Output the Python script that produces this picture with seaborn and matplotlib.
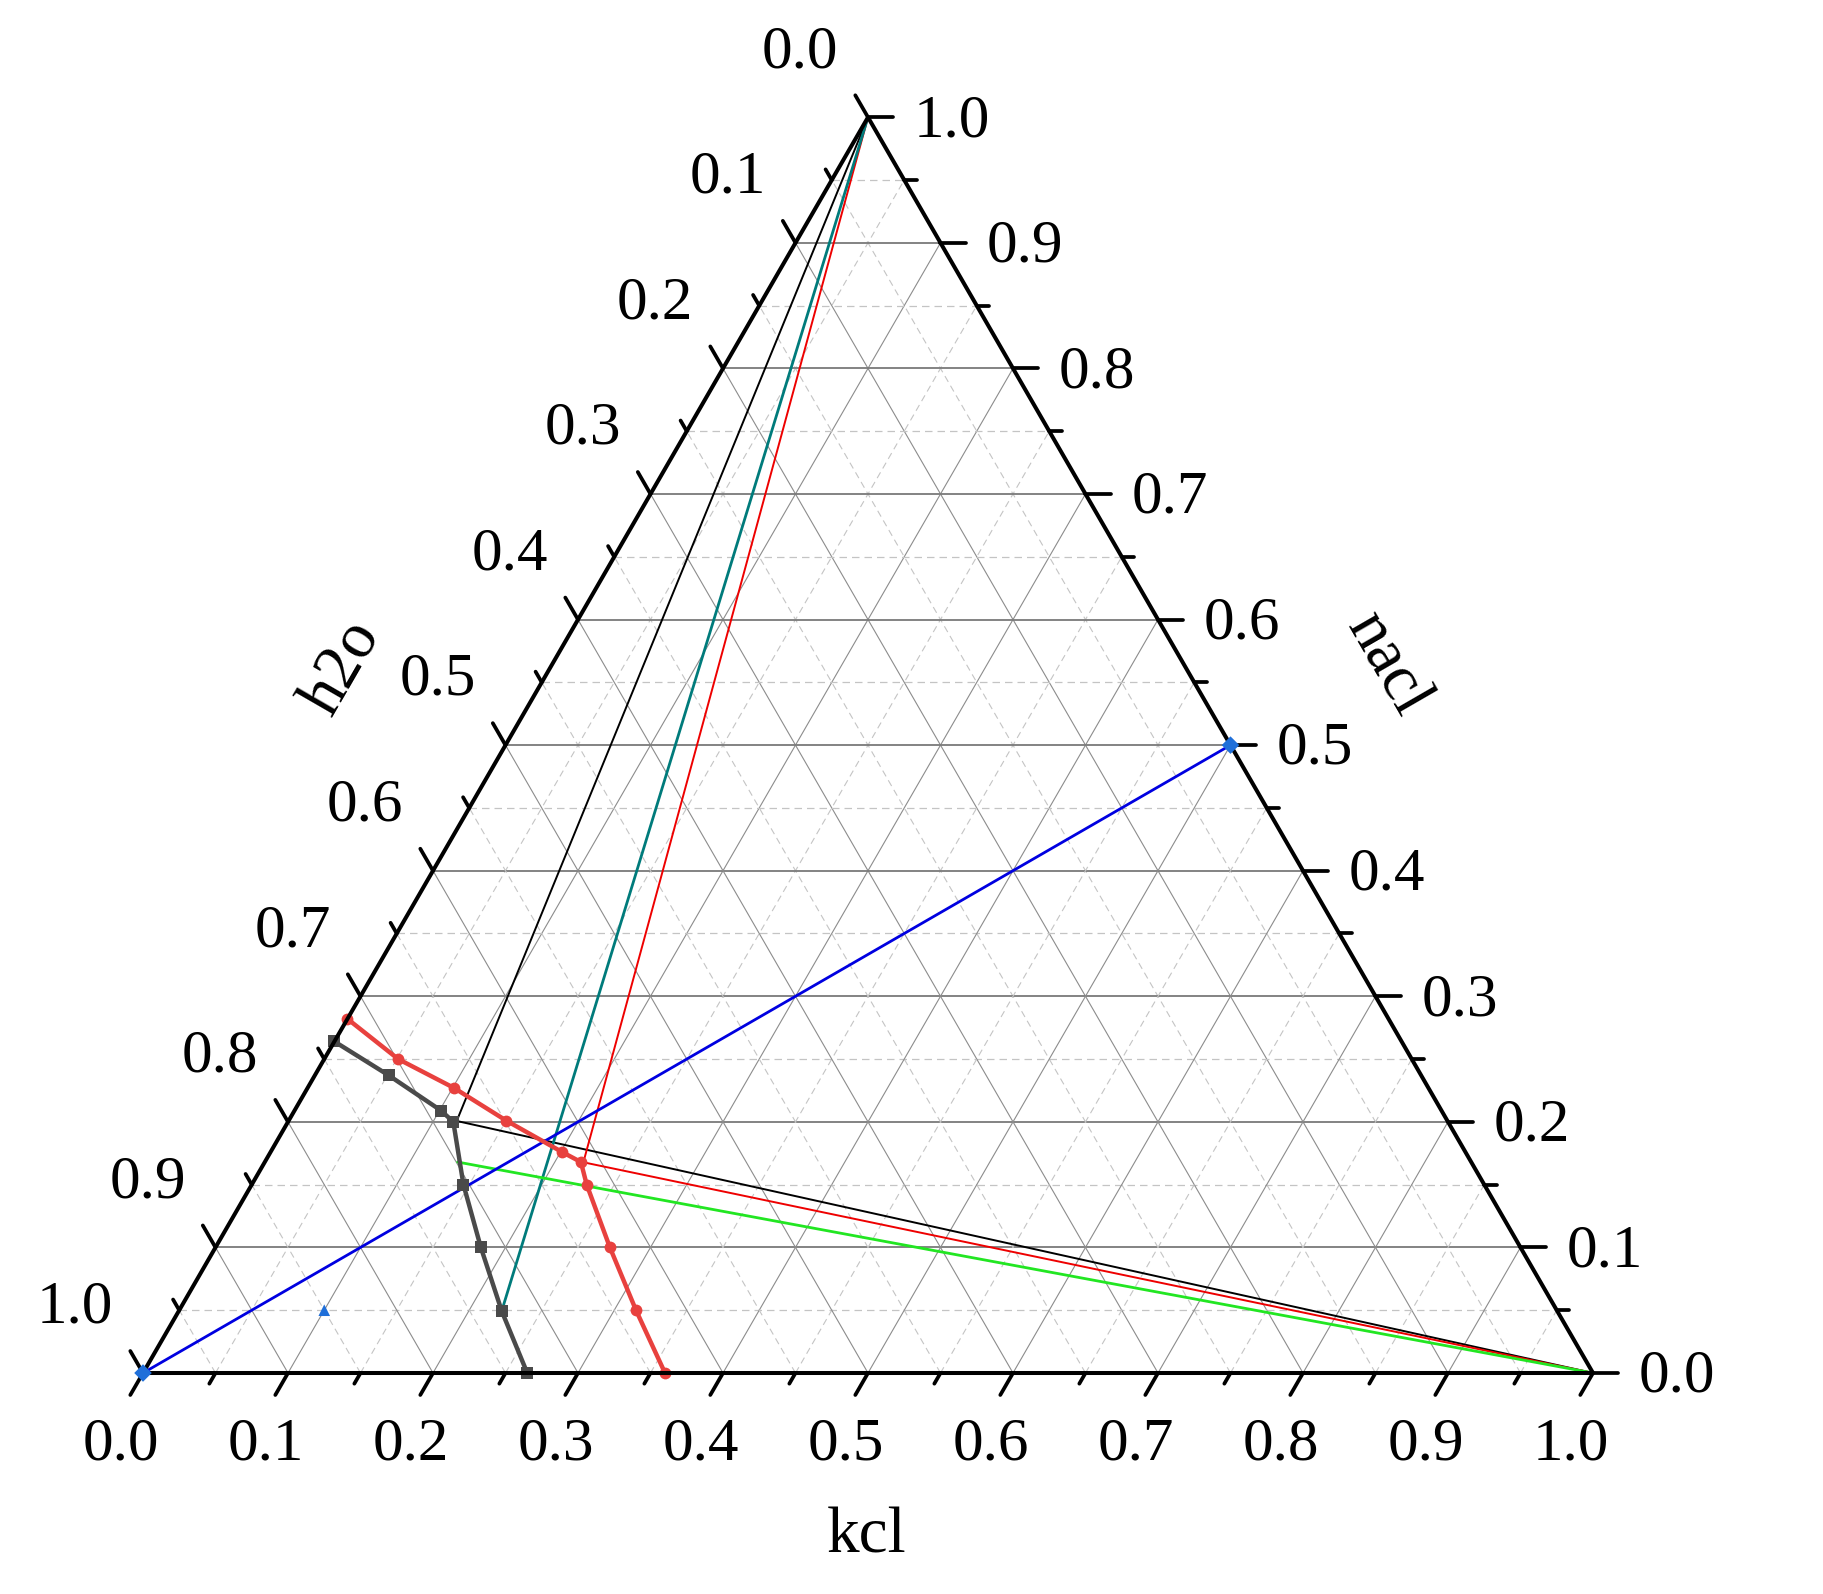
#三元相图 kcl - nacl - h2o
import numpy as np
import pandas as pd
import matplotlib
matplotlib.use("Agg")
import matplotlib.pyplot as plt
import seaborn as sns

# datos (fracciones kcl, nacl; h2o = 1 - kcl - nacl)
red_kcl = [0.0, 0.051, 0.101, 0.150, 0.201, 0.218, 0.231, 0.272, 0.315, 0.360]
red_nacl = [0.282, 0.250, 0.227, 0.201, 0.176, 0.168, 0.150, 0.100, 0.050, 0.0]

gray_kcl = [0.0, 0.051, 0.101, 0.114, 0.146, 0.183, 0.223, 0.265]
gray_nacl = [0.264, 0.237, 0.209, 0.200, 0.150, 0.100, 0.049, 0.0]

# lineas de union
black_kcl = [0.0, 0.116, 1.0]
black_nacl = [1.0, 0.2007, 0.0]
thinred_kcl = [0.0, 0.2198, 1.0]
thinred_nacl = [1.0, 0.1678, 0.0]
teal_kcl = [0.0, 0.2227]
teal_nacl = [1.0, 0.0494]
green_kcl = [0.133, 1.0]
green_nacl = [0.168, 0.0]
blue_kcl = [0.0, 0.5]
blue_nacl = [0.0, 0.5]
tri_kcl = [0.1]
tri_nacl = [0.05]

tick_vals = np.round(np.arange(0, 1.0001, 0.05), 2)
S3 = np.sqrt(3) / 2


def to_xy(kcl, nacl):
    kcl = np.asarray(kcl, float)
    nacl = np.asarray(nacl, float)
    return kcl + 0.5 * nacl, nacl * S3


def frame(kcl, nacl):
    x, y = to_xy(kcl, nacl)
    return pd.DataFrame({'x': x, 'y': y})


sns.set_style('white')
plt.rcParams['font.family'] = ['Liberation Serif', 'DejaVu Serif']
plt.rcParams['text.color'] = 'black'

PX = 1450.0
fig = plt.figure(figsize=(18.23, 15.94), dpi=100)
ax = fig.add_axes([0, 0, 1, 1])
ax.set_xlim(-143 / PX, 1680 / PX)
ax.set_ylim(-221 / PX, 1373 / PX)
ax.axis('off')

# rejilla
for v in tick_vals[1:-1]:
    major = abs(v * 10 - round(v * 10)) < 1e-6
    if major:
        sh = dict(color='#7a7a7a', lw=1.3, ls='-', zorder=1)
        ss = dict(color='#8c8c8c', lw=0.8, ls='-', zorder=1)
    else:
        sh = dict(color='#c4c4c4', lw=0.9, ls=(0, (6, 4)), zorder=1)
        ss = dict(color='#c4c4c4', lw=0.8, ls=(0, (6, 4)), zorder=1)
    x, y = to_xy([0, 1 - v], [v, v])
    ax.plot(x, y, **sh)
    x, y = to_xy([v, v], [0, 1 - v])
    ax.plot(x, y, **ss)
    x, y = to_xy([1 - v, 0], [0, 1 - v])
    ax.plot(x, y, **ss)

# marco del triangulo
x, y = to_xy([0, 1, 0, 0], [0, 0, 1, 0])
ax.plot(x, y, color='black', lw=2.9, zorder=4, solid_capstyle='projecting')

# marcas y etiquetas
d_bot = np.array([-0.5, -S3])
d_right = np.array([1.0, 0.0])
d_left = np.array([-0.5, S3])
for v in tick_vals:
    major = abs(v * 10 - round(v * 10)) < 1e-6
    ln = 0.0175 if major else 0.0085
    pb = np.array(to_xy(v, 0))
    pr = np.array(to_xy(1 - v, v))
    pl = np.array(to_xy(0, 1 - v))
    for p, d in ((pb, d_bot), (pr, d_right), (pl, d_left)):
        q = p + d * ln
        ax.plot([p[0], q[0]], [p[1], q[1]], color='black', lw=2.7, zorder=4)
    if major:
        lab = f"{v:.1f}"
        ax.text(pb[0] - 22 / PX, pb[1] - 72 / PX, lab, ha='center', va='center',
                fontsize=44, color='black')
        ax.text(pr[0] + 46 / PX, pr[1] - 4 / PX, lab, ha='left', va='center',
                fontsize=44, color='black')
        ax.text(pl[0] - 68 / PX, pl[1] + 65 / PX, lab, ha='center', va='center',
                fontsize=44, color='black')

# titulos de ejes
ax.text(0.4993, -0.113, 'kcl', ha='center', va='center', fontsize=47, color='black')
ax.text(0.1379, 0.4862, 'h2o', ha='center', va='center', fontsize=47, rotation=60,
        color='black')
ax.text(0.858, 0.4883, 'nacl', ha='center', va='center', fontsize=47, rotation=-60,
        color='black')

# lineas de union
for kk, nn, col, lw in ((black_kcl, black_nacl, 'black', 1.4),
                        (thinred_kcl, thinred_nacl, '#ee0000', 1.4),
                        (teal_kcl, teal_nacl, '#007b7b', 2.0),
                        (green_kcl, green_nacl, '#22e622', 2.0),
                        (blue_kcl, blue_nacl, '#0000e0', 2.0)):
    sns.lineplot(data=frame(kk, nn), x='x', y='y', sort=False, estimator=None,
                 color=col, linewidth=lw, ax=ax, zorder=3)

# curvas de solubilidad
sns.lineplot(data=frame(gray_kcl, gray_nacl), x='x', y='y', sort=False, estimator=None,
             color='#4a4a4a', linewidth=3.2, marker='s', markersize=8, markeredgewidth=0,
             ax=ax, zorder=3)
sns.lineplot(data=frame(red_kcl, red_nacl), x='x', y='y', sort=False, estimator=None,
             color='#e8413e', linewidth=3.2, marker='o', markersize=8.5, markeredgewidth=0,
             ax=ax, zorder=3)

# puntos azules
sns.scatterplot(data=frame(blue_kcl, blue_nacl), x='x', y='y', marker='D', s=80,
                color='#1f6fd9', edgecolor='none', ax=ax, zorder=6)
sns.scatterplot(data=frame(tri_kcl, tri_nacl), x='x', y='y', marker='^', s=70,
                color='#1f6fd9', edgecolor='none', ax=ax, zorder=6)

ax.set_xlim(-143 / PX, 1680 / PX)
ax.set_ylim(-221 / PX, 1373 / PX)
ax.axis('off')
fig.savefig('out.png', dpi=100)
